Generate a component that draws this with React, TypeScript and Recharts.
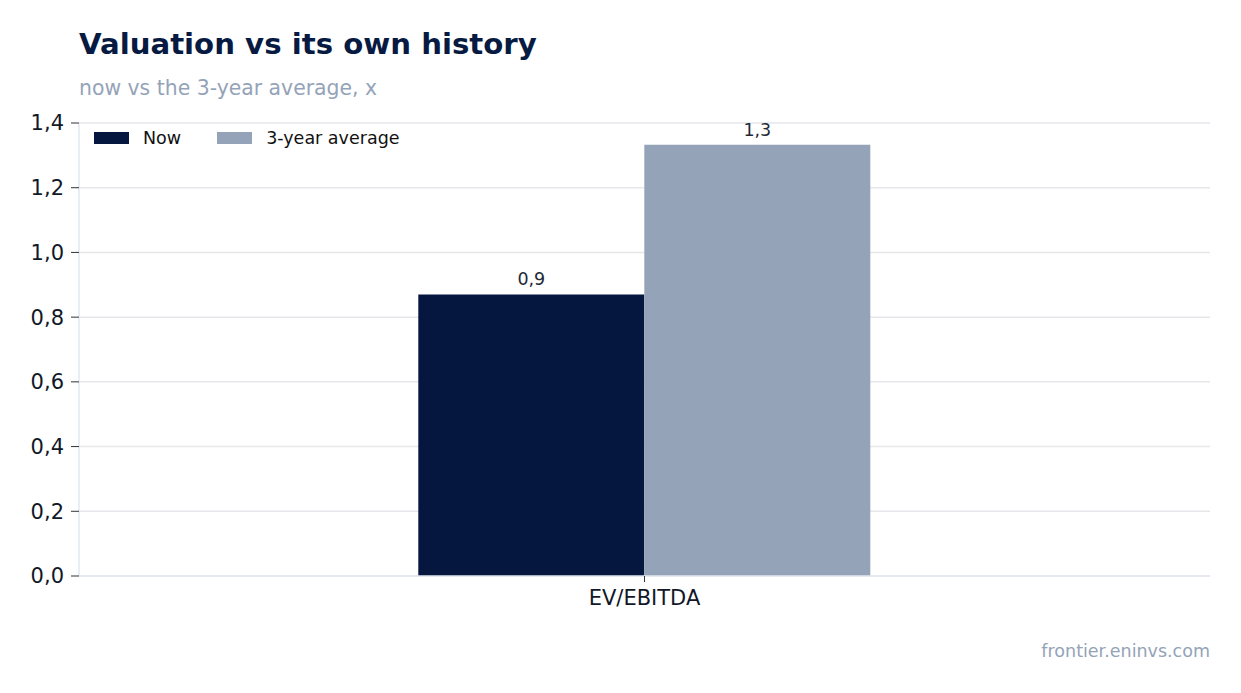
import React from "react";
import { BarChart, Bar, XAxis, YAxis, CartesianGrid, LabelList } from "recharts";

const categories = ["EV/EBITDA"];
const nowValues = [0.87];
const avgValues = [1.333];
const yTicks = [0, 0.2, 0.4, 0.6, 0.8, 1.0, 1.2, 1.4];
const seriesNames = ["Now", "3-year average"];
const seriesColors = ["#05163f", "#94a3b8"];

const data = categories.map((c, i) => ({ name: c, now: nowValues[i], avg: avgValues[i] }));

const fmt = (v: number) => v.toFixed(1).replace(".", ",");
const FONT = "'DejaVu Sans', sans-serif";

const LegendBox = () => (
  <div style={{ position: "absolute", left: 94, top: 128, display: "flex", alignItems: "center", fontFamily: FONT, fontSize: 17.5, color: "#111" }}>
    {seriesNames.map((n, i) => (
      <div key={n} style={{ display: "flex", alignItems: "center", marginRight: 36 }}>
        <div style={{ width: 35, height: 12, background: seriesColors[i], marginRight: 14 }} />
        <span>{n}</span>
      </div>
    ))}
  </div>
);

export default function App() {
  return (
    <div style={{ position: "absolute", left: 0, top: 0, width: 1241, height: 693, background: "#fff", fontFamily: FONT }}>
      <div style={{ position: "absolute", left: 79, top: 27, fontSize: 29.2, fontWeight: "bold", color: "#071a42" }}>
        Valuation vs its own history
      </div>
      <div style={{ position: "absolute", left: 79, top: 76, fontSize: 20.4, color: "#94a3b8" }}>
        now vs the 3-year average, x
      </div>
      <div style={{ position: "absolute", right: 31, top: 641, fontSize: 17.5, color: "#94a3b8" }}>
        frontier.eninvs.com
      </div>
      <BarChart
        width={1241}
        height={693}
        data={data}
        margin={{ top: 123, right: 31, bottom: 77, left: 0 }}
        barCategoryGap="30%"
        barGap={0}
      >
        <CartesianGrid horizontal vertical={false} stroke="#e5e7eb" strokeWidth={1.5} />
        <XAxis
          dataKey="name"
          height={40}
          axisLine={{ stroke: "#e2e8f0", strokeWidth: 1.5 }}
          tickLine={{ stroke: "#333" }}
          tickSize={6}
          tick={{ fontSize: 21, fill: "#111827", fontFamily: FONT, dy: 6 }}
        />
        <YAxis
          width={79}
          domain={[0, 1.4]}
          ticks={yTicks}
          tickFormatter={fmt}
          axisLine={{ stroke: "#e2e8f0", strokeWidth: 1.5 }}
          tickLine={{ stroke: "#333" }}
          tickSize={8}
          tick={{ fontSize: 21, fill: "#111827", fontFamily: FONT, dx: -5 }}
          interval={0}
        />
        <Bar dataKey="now" name={seriesNames[0]} fill={seriesColors[0]} isAnimationActive={false}>
          <LabelList dataKey="now" position="top" formatter={(v: number) => fmt(v)} style={{ fontSize: 17.5, fill: "#1f2937", fontFamily: FONT }} offset={9} />
        </Bar>
        <Bar dataKey="avg" name={seriesNames[1]} fill={seriesColors[1]} isAnimationActive={false}>
          <LabelList dataKey="avg" position="top" formatter={(v: number) => fmt(v)} style={{ fontSize: 17.5, fill: "#1f2937", fontFamily: FONT }} offset={9} />
        </Bar>
      </BarChart>
      <LegendBox />
    </div>
  );
}
